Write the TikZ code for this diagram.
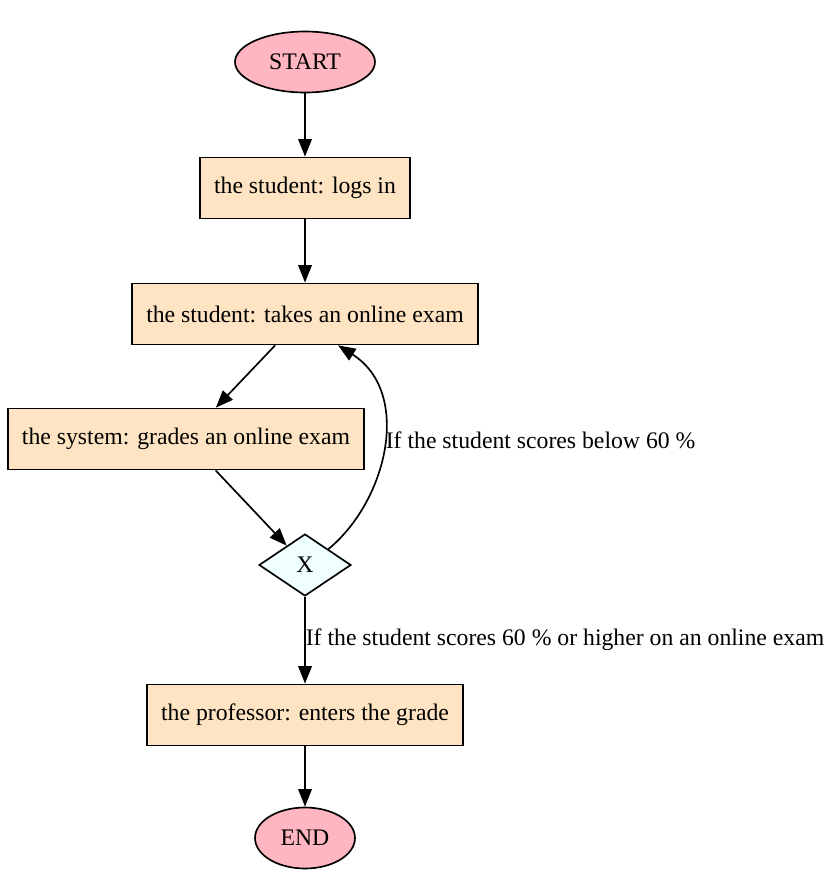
\documentclass[tikz,border=0pt]{standalone}
\usepackage{fontspec}
\setmainfont{Liberation Serif}
\usetikzlibrary{calc,positioning,shapes.geometric,arrows.meta}
\definecolor{termpink}{HTML}{FFB6C1}
\definecolor{taskbisque}{HTML}{FFE4C4}
\definecolor{gateazure}{HTML}{F0FFFF}

\begin{document}
\begin{tikzpicture}[
        x=0.02cm, y=-0.02cm,
        font=\fontsize{13.5pt}{16pt}\selectfont,
        line width=0.95pt,
        TermCfg/.style={
            ellipse, draw, fill=termpink,
            minimum height=1.22cm, inner sep=0pt
        },
        TaskCfg/.style={
            rectangle, draw, fill=taskbisque,
            minimum height=1.22cm, inner xsep=0.28cm
        },
        GateCfg/.style={
            diamond, draw, fill=gateazure,
            minimum width=1.84cm, minimum height=1.24cm, inner sep=0pt
        },
        EdgeCfg/.style={
            -{Triangle[length=0.35cm,width=0.27cm]}
        },
        LblCfg/.style={anchor=west, inner sep=0pt}
    ]
    \useasboundingbox (0,0) rectangle (835,879);
    
    % start / end
    \node[TermCfg, minimum width=2.8cm] (start) at (305,62) {START};
    \node[TermCfg, minimum width=2cm] (end) at (305,838) {END};
    
    % tasks
    \node[TaskCfg] (login) at (305,188) {the student: logs in};
    \node[TaskCfg] (exam) at (305,314) {the student: takes an online exam};
    \node[TaskCfg] (grade) at (186,439) {the system: grades an online exam};
    \node[TaskCfg] (enter) at (305,715) {the professor: enters the grade};
    
    % gate
    \node[GateCfg] (gate) at (305,565) {X};
    
    % edges
    \draw[EdgeCfg] (start)--(login);
    \draw[EdgeCfg] (login)--(exam);
    \draw[EdgeCfg] (exam)--(grade);
    \draw[EdgeCfg] (grade)--(gate);
    \draw[EdgeCfg] (gate.north east) .. controls (388,500) and (412,392) .. ($(exam.south)+(33,0)$);
    \draw[EdgeCfg] (gate)--(enter);
    \draw[EdgeCfg] (enter)--(end);
    
    % labels
    \node[LblCfg] (lowlbl) at (385,440) {If the student scores below 60 \%};
    \node[LblCfg] (passlbl) at (305,640) {If the student scores 60 \% or higher on an online exam};
    
\end{tikzpicture}
\end{document}
